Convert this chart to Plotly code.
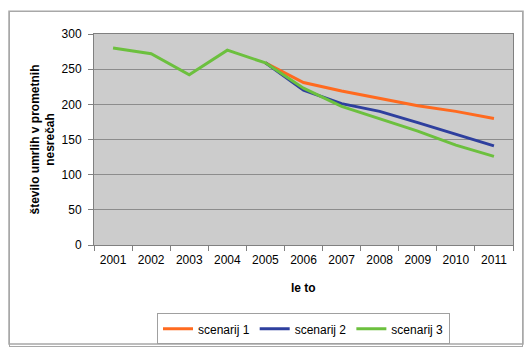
import plotly.graph_objects as go

years = ["2001", "2002", "2003", "2004", "2005", "2006", "2007", "2008", "2009", "2010", "2011"]
scenarij_1 = [None, None, None, None, 259, 231, 219, 209, 198, 190, 180]
scenarij_2 = [None, None, None, None, 259, 220, 201, 190, 174, 157, 141]
scenarij_3 = [280, 272, 242, 277, 259, 223, 197, 180, 162, 142, 126]
y_ticks = [0, 50, 100, 150, 200, 250, 300]

# page body has an 8px margin, so the figure is offset by (8, 8) in the window
OFF = 8
W, H = 532 - OFF, 357 - OFF
L, R, T, B = 94 - OFF, 19, 34 - OFF, 110
pw, ph = W - L - R, H - T - B

def px(x):
    return (x - OFF - L) / pw

def py(y):
    return (H - B - (y - OFF)) / ph

fig = go.Figure()
series = [("scenarij 1", scenarij_1, "#FF6A1F"),
          ("scenarij 2", scenarij_2, "#2E3F9E"),
          ("scenarij 3", scenarij_3, "#6CC03E")]
for name, vals, col in series:
    fig.add_trace(go.Scatter(x=years, y=vals, name=name, mode="lines",
                             line=dict(color=col, width=3)))

fx0, fy0, fx1, fy1 = 9, 11, 523, 347
frame = dict(color="#A8A8A8", width=1.5)
fig.update_layout(
    width=W, height=H,
    margin=dict(l=L, r=R, t=T, b=B),
    paper_bgcolor="white", plot_bgcolor="#CCCCCC",
    font=dict(family="Liberation Sans, Arial, sans-serif", size=12, color="black"),
    showlegend=True,
    legend=dict(orientation="h", x=0.5, xanchor="center", y=py(316), yanchor="top",
                bordercolor="#A0A0A0", borderwidth=1, bgcolor="white",
                font=dict(size=12), itemwidth=30, tracegroupgap=0),
    xaxis=dict(type="category", range=[-0.5, 10.5], tickson="boundaries", ticks="outside",
               ticklen=5, tickcolor="#808080", showgrid=False, showline=True,
               linecolor="#808080", mirror=True, zeroline=False, tickfont=dict(size=12),
               ticklabelstandoff=4),
    yaxis=dict(range=[0, 300], tickvals=y_ticks, ticks="outside", ticklen=5,
               tickcolor="#808080", showgrid=True, gridcolor="#8C8C8C", gridwidth=1,
               showline=True, linecolor="#808080", mirror=True, zeroline=False,
               tickfont=dict(size=12), ticklabelstandoff=4),
    annotations=[
        dict(text=" ", xref="paper", yref="paper", x=px(fx0), y=py(fy0),
             xanchor="left", yanchor="top", showarrow=False,
             width=fx1 - fx0 - 2, height=fy1 - fy0 - 2, borderpad=0,
             bordercolor="#A8A8A8", borderwidth=1, bgcolor="rgba(0,0,0,0)"),
        dict(text="<b>število umrlih v prometnih<br>nesrečah</b>", xref="paper", yref="paper",
             x=px(42), y=0.5, textangle=-90, showarrow=False, font=dict(size=12),
             xanchor="center", yanchor="middle"),
        dict(text="<b>le to</b>", xref="paper", yref="paper", x=0.5, y=py(290),
             showarrow=False, font=dict(size=12), xanchor="center", yanchor="middle"),
    ],
    shapes=[
        dict(type="rect", xref="paper", yref="paper",
             x0=px(fx0), x1=px(fx1), y0=py(fy1), y1=py(fy0),
             line=frame, fillcolor="rgba(0,0,0,0)", layer="above"),
    ],
)

fig.write_html("out.html")
